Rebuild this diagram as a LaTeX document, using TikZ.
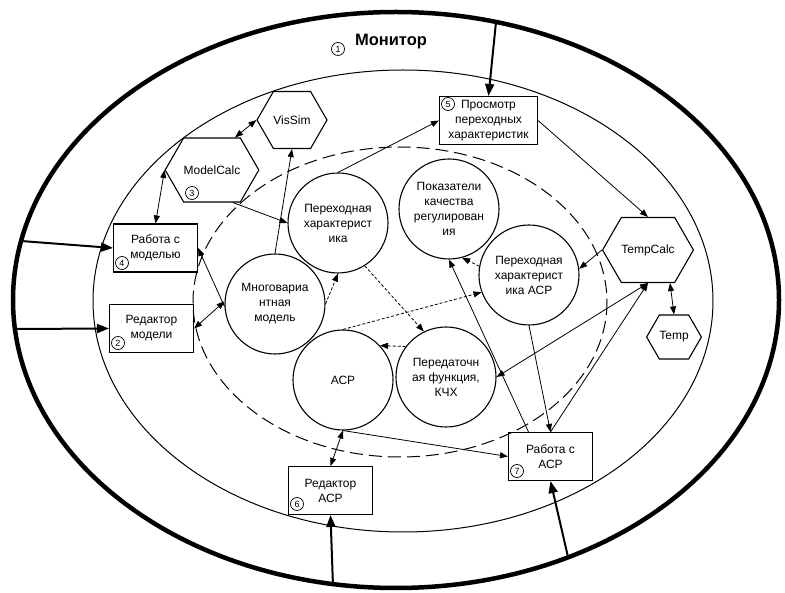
\documentclass[tikz,border=0pt]{standalone}
\usepackage{fontspec}
\setmainfont{Liberation Sans}
\usetikzlibrary{arrows.meta,shapes,shapes.symbols,calc}

\begin{document}
\begin{tikzpicture}[x=1pt, y=-1pt,
    crc/.style={circle, draw, line width=1.1pt, minimum size=100pt, inner sep=0pt, align=center, font=\fontsize{12}{15}\selectfont},
    blk/.style={rectangle, draw, line width=1.1pt, minimum width=84pt, minimum height=48pt, inner sep=1pt, align=center, font=\fontsize{12}{15}\selectfont},
    hex/.style={signal, signal to=east and west, signal pointer angle=120, draw, line width=1.1pt, inner sep=0pt, font=\fontsize{12}{15}\selectfont},
    num/.style={circle, draw, line width=0.7pt, minimum size=13pt, inner sep=0pt, font=\fontsize{9}{9}\selectfont},
    con/.style={line width=0.8pt, -{Triangle[length=8pt,width=6pt]}},
    bicon/.style={line width=0.8pt, {Triangle[length=8pt,width=6pt]}-{Triangle[length=8pt,width=6pt]}},
    dcon/.style={con, dash pattern=on 3pt off 2pt},
    ext/.style={line width=2pt, -{Triangle[length=12pt,width=9pt]}}
]
    \useasboundingbox (0,0) rectangle (785,593);

    % the three rings
    \draw[line width=4.5pt] (396,300) ellipse [x radius=383, y radius=288];
    \draw[line width=1pt] (403,301) ellipse [x radius=310, y radius=231];
    \draw[line width=1pt, dash pattern=on 13pt off 6pt] (400,302) ellipse [x radius=207, y radius=155];

    \node[font=\fontsize{16.5}{18}\selectfont\bfseries] (mont) at (391,42) {Монитор};

    % inner circles
    \foreach \x/\y/\id/\txt in {338/223/perh/{Переходная\\характерист\\ика},
        275/304/mnog/{Многовариа\\нтная\\модель},
        449/209/pokaz/{Показатели\\качества\\регулирован\\ия},
        529/275/perhasr/{Переходная\\характерист\\ика АСР},
        343/380/asr/{АСР},
        446/377/pered/{Передаточн\\ая функция,\\КЧХ}}
        \node[crc] (\id) at (\x,\y) {\txt};

    % boxes
    \node[blk] (rabmod) at (155.5,248) {Работа с\\моделью};
    \node[blk] (redmod) at (151.5,328.5) {Редактор\\модели};
    \node[blk, minimum width=98pt] (prosm) at (488.5,120.5) {Просмотр\\переходных\\характеристик};
    \node[blk] (redasr) at (330.5,490.5) {Редактор\\АСР};
    \node[blk] (rabasr) at (550.5,456.5) {Работа с\\АСР};

    % hexagons
    \node[hex, minimum width=65pt, minimum height=57pt] (vissim) at (292,120) {VisSim};
    \node[hex, minimum width=93pt, minimum height=64pt] (mcalc) at (212,170) {ModelCalc};
    \node[hex, minimum width=85pt, minimum height=65pt] (tcalc) at (648,250) {TempCalc};
    \node[hex, minimum width=54pt, minimum height=44pt] (temp) at (674,337) {Temp};

    % numbers
    \foreach \x/\y/\n in {338/49/1, 118/343/2, 192/193/3, 122/263/4, 448/104/5, 297/504/6, 517/471/7}
        \node[num] (n\n) at (\x,\y) {\n};

    % links from outside
    \coordinate (in5) at (496,22);
    \coordinate (in4) at (21,241);
    \coordinate (in2) at (15,329);
    \coordinate (in6) at (333,586);
    \coordinate (in7) at (568,557);
    \draw[ext] (in5) -- (prosm.north);
    \draw[ext] (in4) -- (rabmod.west);
    \draw[ext] (in2) -- (redmod.west);
    \draw[ext] (in6) -- (redasr.south);
    \draw[ext] (in7) -- (rabasr.south);

    % links
    \draw[bicon] ([xshift=23pt]mcalc.north) -- (vissim.west);
    \draw[con] (mnog.north) -- (vissim.south);
    \draw[bicon] (mcalc.west) -- (rabmod.north);
    \draw[con] ([xshift=21pt]mcalc.south) -- (perh.west);
    \draw[con] (mnog.183) -- (rabmod.east);
    \draw[bicon] (redmod.east) -- (mnog.177);
    \draw[con] (perh.north) -- (prosm.west);
    \draw[con] (prosm.east) -- (tcalc.north);
    \draw[con] (tcalc.west) -- (perhasr.7);
    \draw[bicon] ([xshift=22pt]tcalc.south) -- (temp.north);
    \draw[bicon] (tcalc.south) -- (pered.east);
    \draw[con] (rabasr.north) -- (tcalc.south);
    \draw[con] (perhasr.south) -- (rabasr.north);
    \draw[con] ([xshift=-22pt]rabasr.north) -- (pokaz.south);
    \draw[bicon] (asr.south) -- (redasr.north);
    \draw[con] (asr.south) -- (rabasr.west);

    % dashed links
    \draw[dcon] (mnog.east) -- (perh.south);
    \draw[dcon] (perh.302) -- (pered.116);
    \draw[dcon] (asr.north) -- (perhasr.200);
    \draw[dcon] (pered.143) -- (asr.43);
    \draw[dcon] (perhasr.170) -- (pokaz.285);
\end{tikzpicture}
\end{document}
